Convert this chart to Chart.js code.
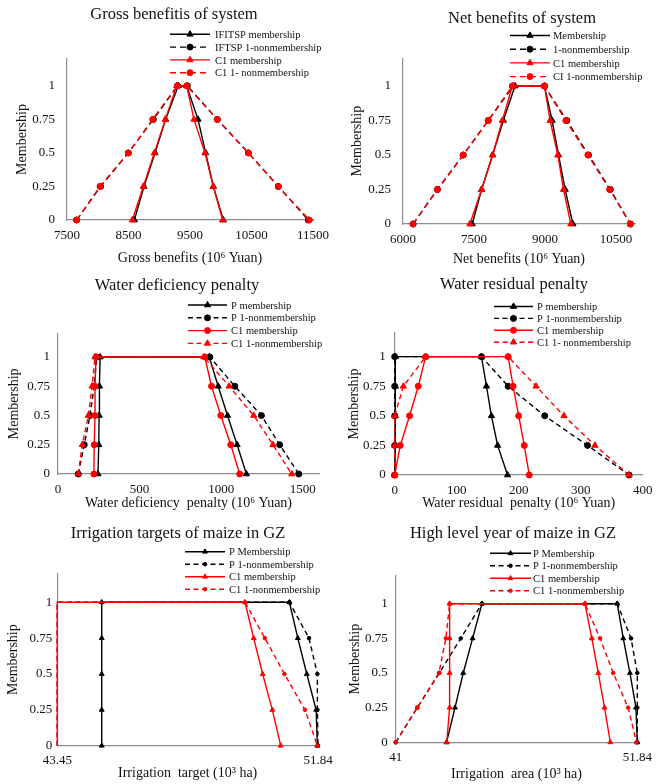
<!DOCTYPE html>
<html>
<head>
<meta charset="utf-8">
<title>Membership functions of system results</title>
<script src="https://cdn.jsdelivr.net/npm/chart.js@4.4.1/dist/chart.umd.min.js"></script>
<style>
  html, body { margin: 0; padding: 0; background: #fff; }
  #sheet { position: relative; width: 657px; height: 784px; overflow: hidden; background: #fff; }
  #sheet canvas { position: absolute; }
</style>
</head>
<body>
<div id="sheet"></div>
<script>
// Membership level of each point: up the left side, then down the right side
const membershipLevels = [0, 0.25, 0.5, 0.75, 1, 1, 0.75, 0.5, 0.25, 0];
const membershipTicks = [0, 0.25, 0.5, 0.75, 1];

// Gross benefits of system (10^6 Yuan)
const grossIfitspMember = [8595, 8752, 8931, 9104, 9310, 9446, 9630, 9755, 9879, 10042];
const grossIfitspNonmember = [7657, 8047, 8497, 8904, 9299, 9457, 9944, 10449, 10936, 11424];
const grossC1Member = [8562, 8741, 8920, 9099, 9283, 9446, 9565, 9744, 9879, 10031];
const grossC1Nonmember = [7657, 8037, 8497, 8893, 9294, 9446, 9944, 10449, 10936, 11440];
const grossTicks = [7500, 8500, 9500, 10500, 11500];

// Net benefits of system (10^6 Yuan)
const netMember = [7462, 7660, 7893, 8119, 8366, 8987, 9150, 9284, 9425, 9588];
const netNonmember = [6212, 6727, 7271, 7801, 8331, 8987, 9460, 9919, 10379, 10802];
const netC1Member = [7412, 7660, 7893, 8098, 8309, 8987, 9107, 9270, 9390, 9545];
const netC1Nonmember = [6212, 6727, 7271, 7801, 8309, 8987, 9439, 9905, 10364, 10802];
const netTicks = [6000, 7500, 9000, 10500];

// Water deficiency penalty (10^6 Yuan)
const deficiencyPMember = [245, 250, 252, 254, 258, 927, 982, 1039, 1098, 1155];
const deficiencyPNonmember = [124, 161, 196, 222, 237, 931, 1084, 1247, 1359, 1476];
const deficiencyC1Member = [220, 222, 227, 227, 233, 900, 941, 998, 1059, 1114];
const deficiencyC1Nonmember = [124, 149, 186, 209, 227, 894, 1049, 1200, 1318, 1433];
const deficiencyTicks = [0, 500, 1000, 1500];

// Water residual penalty (10^6 Yuan)
const residualPMember = [0, 1, 1, 1, 1, 140, 148, 156, 166, 182];
const residualPNonmember = [0, 0, 0, 0, 0, 140, 183, 242, 311, 378];
const residualC1Member = [0, 9, 24, 38, 50, 183, 191, 200, 209, 217];
const residualC1Nonmember = [0, 0, 0, 14, 50, 183, 228, 273, 323, 378];
const residualTicks = [0, 100, 200, 300, 400];

// Irrigation targets of maize in GZ (10^3 ha)
const targetPMember = [44.88, 44.88, 44.88, 44.88, 44.88, 50.92, 51.19, 51.48, 51.78, 51.82];
const targetPNonmember = [43.45, 43.45, 43.45, 43.45, 43.45, 50.92, 51.55, 51.82, 51.82, 51.84];
const targetC1Member = [43.45, 43.45, 43.45, 43.45, 43.45, 49.49, 49.77, 50.06, 50.37, 50.64];
const targetC1Nonmember = [43.45, 43.45, 43.45, 43.45, 43.45, 49.49, 50.13, 50.76, 51.42, 51.82];
const targetTicks = [43.45, 51.84];

// High level year of maize in GZ (10^3 ha)
const areaPMember = [43.28, 43.66, 44.03, 44.45, 44.87, 50.94, 51.21, 51.51, 51.78, 51.84];
const areaPNonmember = [41, 41.97, 42.96, 43.92, 44.87, 50.94, 51.56, 51.84, 51.84, 51.84];
const areaC1Member = [43.29, 43.42, 43.42, 43.42, 43.42, 49.49, 49.8, 50.09, 50.37, 50.63];
const areaC1Nonmember = [41, 41.97, 42.94, 43.25, 43.42, 49.49, 50.17, 50.76, 51.43, 51.8];
const areaTicks = [41, 51.84];

const BLACK = '#000000';
const RED = '#ff0000';
const AXIS = '#8c8c8c';
const TEXT = '#111111';
const SERIF = '"Liberation Serif", "Times New Roman", "DejaVu Serif", serif';
const AXIS_TITLE_SIZE = 14;

// Panel layout in page pixels: box = canvas [x, y, w, h], area = plot [left, top, right, bottom]
const panels = [
  {
    title: 'Gross benefitis of system', titlePos: [174, 19.3],
    xTitle: 'Gross benefits (10⁶ Yuan)',
    xMin: 7500, xMax: 11500, xTicks: grossTicks,
    series: [
      ['IFITSP membership', grossIfitspMember, BLACK, false, 'triangle'],
      ['IFTSP 1-nonmembership', grossIfitspNonmember, BLACK, true, 'circle'],
      ['C1 membership', grossC1Member, RED, false, 'triangle'],
      ['C1 1- nonmembership', grossC1Nonmember, RED, true, 'circle']
    ],
    box: [0, 0, 340, 270], area: [67, 59, 313, 220],
    yTitleX: 22, xTitleY: 258.5, yTickPad: 12, xTickPad: 8,
    legend: { line: [170, 210], text: 215, y: 34.3, step: 12.8 },
    tri: 3.6, dot: 3, dash: [6, 4]
  },
  {
    title: 'Net benefits of system', titlePos: [522, 22.7],
    xTitle: 'Net benefits (10⁶ Yuan)',
    xMin: 6000, xMax: 10900, xTicks: netTicks,
    series: [
      ['Membership', netMember, BLACK, false, 'triangle'],
      ['1-nonmembership', netNonmember, BLACK, true, 'circle'],
      ['C1 membership', netC1Member, RED, false, 'triangle'],
      ['CI 1-nonmembership', netC1Nonmember, RED, true, 'circle']
    ],
    box: [328, 0, 329, 270], area: [403, 58.4, 635, 224],
    yTitleX: 357.5, xTitleY: 259, yTickPad: 12, xTickPad: 8,
    legend: { line: [510, 550], text: 553, y: 35.5, step: 13.7 },
    tri: 3.6, dot: 3, dash: [6, 4]
  },
  {
    title: 'Water deficiency penalty', titlePos: [177, 290],
    xTitle: 'Water deficiency  penalty (10⁶ Yuan)',
    xMin: 0, xMax: 1600, xTicks: deficiencyTicks,
    series: [
      ['P membership', deficiencyPMember, BLACK, false, 'triangle'],
      ['P 1-nonmembership', deficiencyPNonmember, BLACK, true, 'circle'],
      ['C1 membership', deficiencyC1Member, RED, false, 'circle'],
      ['C1 1-nonmembership', deficiencyC1Nonmember, RED, true, 'triangle']
    ],
    box: [0, 262, 340, 260], area: [58, 333.6, 319, 474],
    yTitleX: 14, xTitleY: 503, yTickPad: 8, xTickPad: 8,
    legend: { line: [188, 227], text: 231, y: 305, step: 12.8 },
    tri: 3.6, dot: 3, dash: [5, 3.5]
  },
  {
    title: 'Water residual penalty', titlePos: [514, 289.3],
    xTitle: 'Water residual  penalty (10⁶ Yuan)',
    xMin: 0, xMax: 400, xTicks: residualTicks,
    series: [
      ['P membership', residualPMember, BLACK, false, 'triangle'],
      ['P 1-nonmembership', residualPNonmember, BLACK, true, 'circle'],
      ['C1 membership', residualC1Member, RED, false, 'circle'],
      ['C1 1- nonmembership', residualC1Nonmember, RED, true, 'triangle']
    ],
    box: [328, 262, 329, 260], area: [394.7, 333, 642.7, 475],
    yTitleX: 354, xTitleY: 503.5, yTickPad: 9, xTickPad: 8,
    legend: { line: [494, 533], text: 537, y: 306.5, step: 11.9 },
    tri: 3.6, dot: 3, dash: [5, 3.5]
  },
  {
    title: 'Irrigation targets of maize in GZ', titlePos: [178, 538.3],
    xTitle: 'Irrigation  target (10³ ha)',
    xMin: 43.45, xMax: 51.84, xTicks: targetTicks, bareEdge: true,
    series: [
      ['P Membership', targetPMember, BLACK, false, 'triangle'],
      ['P 1-nonmembership', targetPNonmember, BLACK, true, 'circle'],
      ['C1 membership', targetC1Member, RED, false, 'triangle'],
      ['C1 1-nonmembership', targetC1Nonmember, RED, true, 'circle']
    ],
    box: [0, 512, 340, 272], area: [57.3, 573.6, 318, 745.7],
    yTitleX: 13.5, xTitleY: 773.5, yTickPad: 5, xTickPad: 7,
    legend: { line: [185, 225], text: 229, y: 551.7, step: 12.5 },
    tri: 2.8, dot: 1.8, dash: [5, 3.5]
  },
  {
    title: 'High level year of maize in GZ', titlePos: [513, 537.7],
    xTitle: 'Irrigation  area (10³ ha)',
    xMin: 41, xMax: 51.84, xTicks: areaTicks,
    series: [
      ['P Membership', areaPMember, BLACK, false, 'triangle'],
      ['P 1-nonmembership', areaPNonmember, BLACK, true, 'circle'],
      ['C1 membership', areaC1Member, RED, false, 'triangle'],
      ['C1 1-nonmembership', areaC1Nonmember, RED, true, 'circle']
    ],
    box: [328, 512, 329, 272], area: [395.7, 576, 637.3, 742.3],
    yTitleX: 355, xTitleY: 774, yTickPad: 8, xTickPad: 7,
    legend: { line: [490, 531], text: 533, y: 553.3, step: 12.5 },
    tri: 2.8, dot: 1.8, dash: [5, 3.5]
  }
];

// Same marker shapes Chart.js uses, for the legend samples
function drawMarker(ctx, style, x, y, r, color) {
  ctx.fillStyle = color;
  ctx.strokeStyle = color;
  ctx.lineWidth = 1;
  ctx.beginPath();
  if (style === 'triangle') {
    for (let k = 0; k < 3; k++) {
      const a = k * 2 * Math.PI / 3;
      const px = x + Math.sin(a) * r;
      const py = y - Math.cos(a) * r;
      if (k === 0) ctx.moveTo(px, py); else ctx.lineTo(px, py);
    }
    ctx.closePath();
  } else {
    ctx.arc(x, y, r, 0, Math.PI * 2);
  }
  ctx.fill();
  ctx.stroke();
}

// Title and legend, placed like the original figure
function decorPlugin(p) {
  const [bx, by] = p.box;
  return {
    id: 'panelDecor',
    afterDraw(chart) {
      const ctx = chart.ctx;
      ctx.save();
      ctx.fillStyle = TEXT;
      ctx.font = '16.5px ' + SERIF;
      ctx.textAlign = 'center';
      ctx.textBaseline = 'alphabetic';
      ctx.fillText(p.title, p.titlePos[0] - bx, p.titlePos[1] - by);

      const lg = p.legend;
      chart.data.datasets.forEach((ds, i) => {
        const y = lg.y + i * lg.step - by;
        const x1 = lg.line[0] - bx;
        const x2 = lg.line[1] - bx;
        ctx.strokeStyle = ds.borderColor;
        ctx.lineWidth = ds.borderWidth;
        ctx.setLineDash(ds.borderDash);
        ctx.beginPath();
        ctx.moveTo(x1, y);
        ctx.lineTo(x2, y);
        ctx.stroke();
        ctx.setLineDash([]);
        drawMarker(ctx, ds.pointStyle, (x1 + x2) / 2, y, ds.markerSize, ds.borderColor);
        ctx.fillStyle = TEXT;
        ctx.font = '10.5px ' + SERIF;
        ctx.textAlign = 'left';
        ctx.fillText(ds.label, lg.text - bx, y + 3.6);
      });
      ctx.restore();
    }
  };
}

function makeSeries(p, [label, values, color, dashed, marker]) {
  const size = marker === 'triangle' ? p.tri : p.dot;
  return {
    label,
    data: values.map((x, i) => ({ x, y: membershipLevels[i] })),
    showLine: true,
    borderColor: color,
    backgroundColor: color,
    borderWidth: 1.4,
    borderDash: dashed ? p.dash : [],
    pointStyle: marker,
    markerSize: size,
    pointRadius: ctx => (p.bareEdge && ctx.raw && ctx.raw.x <= p.xMin) ? 0 : size,
    pointBorderWidth: 1,
    pointBackgroundColor: color,
    pointBorderColor: color,
    order: color === RED ? 0 : 1,
    clip: false
  };
}

const sheet = document.getElementById('sheet');
const lineHeight = AXIS_TITLE_SIZE * 1.2;

panels.forEach(p => {
  const [bx, by, bw, bh] = p.box;
  const [left, top, right, bottom] = p.area;

  const canvas = document.createElement('canvas');
  canvas.width = bw;
  canvas.height = bh;
  canvas.style.left = bx + 'px';
  canvas.style.top = by + 'px';
  canvas.style.width = bw + 'px';
  canvas.style.height = bh + 'px';
  sheet.appendChild(canvas);

  new Chart(canvas, {
    type: 'scatter',
    data: { datasets: p.series.map(s => makeSeries(p, s)) },
    options: {
      responsive: false,
      animation: false,
      devicePixelRatio: 1,
      layout: { padding: { left: 0, top: top - by, right: bx + bw - right, bottom: 0 } },
      plugins: {
        legend: { display: false },
        title: { display: false },
        tooltip: { enabled: false }
      },
      scales: {
        x: {
          type: 'linear',
          min: p.xMin,
          max: p.xMax,
          grid: { display: false, drawTicks: false },
          border: { display: true, color: AXIS, width: 1.2 },
          ticks: {
            padding: p.xTickPad,
            color: TEXT,
            font: { family: SERIF, size: 13 },
            autoSkip: false,
            maxRotation: 0,
            callback: v => String(v)
          },
          afterBuildTicks: s => { s.ticks = p.xTicks.map(v => ({ value: v })); },
          afterFit: s => {
            s.height = by + bh - bottom;
            s.paddingLeft = 0;
            s.paddingRight = 0;
          },
          title: {
            display: true,
            text: p.xTitle,
            color: TEXT,
            font: { family: SERIF, size: AXIS_TITLE_SIZE },
            padding: { top: 0, bottom: by + bh - p.xTitleY - lineHeight / 2 }
          }
        },
        y: {
          type: 'linear',
          min: 0,
          max: 1.2,
          grid: { display: false, drawTicks: false },
          border: { display: true, color: AXIS, width: 1.2 },
          ticks: {
            padding: p.yTickPad,
            color: TEXT,
            font: { family: SERIF, size: 13 },
            callback: v => String(v)
          },
          afterBuildTicks: s => { s.ticks = membershipTicks.map(v => ({ value: v })); },
          afterFit: s => {
            s.width = left - bx;
            s.paddingTop = 0;
            s.paddingBottom = 0;
          },
          title: {
            display: true,
            text: 'Membership',
            color: TEXT,
            font: { family: SERIF, size: AXIS_TITLE_SIZE },
            padding: { top: p.yTitleX - bx - lineHeight / 2, bottom: 0 }
          }
        }
      }
    },
    plugins: [decorPlugin(p)]
  });
});
</script>
</body>
</html>
